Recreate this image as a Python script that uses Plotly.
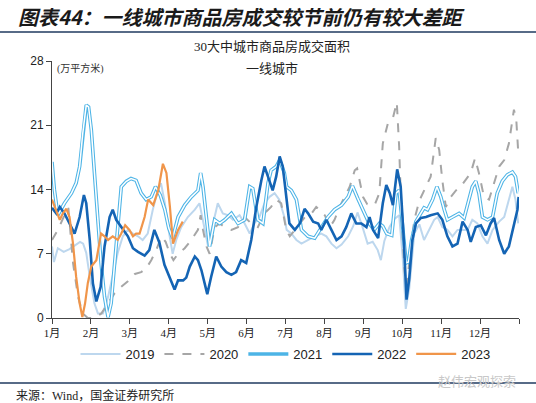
import plotly.graph_objects as go

# ---------------- data (x = months elapsed since Jan 1, y = 万平方米) ----------------
month_labels = ["1月", "2月", "3月", "4月", "5月", "6月", "7月", "8月", "9月", "10月", "11月", "12月"]
y_ticks = [0, 7, 14, 21, 28]

x2019 = [0.00,0.05,0.15,0.30,0.45,0.60,0.72,0.80,0.88,0.97,1.09,1.18,1.31,1.44,1.56,1.69,1.82,1.95,2.08,2.21,2.33,2.46,2.59,2.72,2.80,2.90,3.00,3.10,3.20,3.32,3.49,3.58,3.67,3.79,3.88,4.01,4.14,4.26,4.39,4.52,4.65,4.82,4.95,5.08,5.20,5.33,5.46,5.59,5.72,5.84,5.97,6.03,6.15,6.28,6.41,6.58,6.75,6.92,7.05,7.18,7.31,7.44,7.61,7.74,7.85,7.98,8.11,8.24,8.37,8.45,8.54,8.67,8.80,8.92,9.01,9.09,9.18,9.31,9.44,9.56,9.69,9.82,9.91,10.03,10.16,10.29,10.42,10.55,10.68,10.80,10.93,11.06,11.19,11.32,11.49,11.62,11.74,11.83,11.91,11.98]
y2019 = [7.8,6.1,7.6,7.2,7.5,8.0,8.3,8.1,7.1,4.5,1.6,0.5,0.5,2.3,4.5,7.1,8.9,9.6,9.2,8.9,8.5,9.2,11.8,13.9,14.7,12.5,9.5,7.0,8.6,9.9,11.0,11.4,11.8,12.5,10.7,7.8,10.3,12.5,11.4,11.2,10.7,11.2,10.3,9.2,10.3,11.0,12.5,13.2,13.6,12.9,11.0,9.6,9.2,8.5,8.1,8.5,8.9,9.2,8.9,8.1,7.6,8.0,8.9,10.0,11.5,9.9,8.1,8.3,7.4,6.3,8.4,9.9,10.8,11.2,6.7,1.0,3.2,9.2,10.2,8.5,9.6,10.7,11.0,9.9,9.6,8.9,9.6,9.6,9.6,10.7,10.3,8.9,8.1,9.6,10.5,11.0,12.9,14.3,12.9,10.3]

x2020 = [0.00,0.15,0.30,0.42,0.54,0.67,0.79,0.92,1.09,1.27,1.44,1.61,1.78,1.95,2.13,2.29,2.42,2.55,2.68,2.81,2.92,3.03,3.12,3.24,3.41,3.58,3.75,3.82,3.88,3.97,4.05,4.18,4.31,4.44,4.61,4.78,4.95,5.12,5.29,5.46,5.63,5.76,5.89,6.02,6.11,6.24,6.37,6.50,6.67,6.79,6.88,7.01,7.14,7.26,7.39,7.52,7.65,7.78,7.84,7.99,8.10,8.29,8.41,8.50,8.63,8.76,8.86,8.92,8.98,9.06,9.12,9.20,9.31,9.44,9.58,9.73,9.86,9.95,10.03,10.12,10.25,10.38,10.50,10.63,10.76,10.87,10.97,11.10,11.23,11.36,11.49,11.62,11.74,11.87,11.93,11.98]
y2020 = [8.5,9.6,11.0,12.0,6.0,2.3,0.5,0.0,0.0,0.5,1.6,2.7,3.4,4.0,4.8,5.0,5.4,6.3,7.4,8.9,8.3,7.0,6.3,7.0,7.6,8.5,9.6,11.2,9.6,7.8,7.0,9.9,10.3,9.9,9.6,9.9,11.0,10.3,9.9,11.4,12.1,12.9,12.5,9.6,8.9,9.6,10.3,11.0,11.4,12.1,11.8,11.2,9.9,10.7,12.1,13.2,14.3,16.1,16.3,13.2,12.4,12.3,13.6,19.0,21.2,21.8,23.5,18.7,11.0,5.0,3.5,7.0,10.7,12.8,14.0,15.4,19.6,18.3,15.0,12.1,13.2,13.9,14.3,15.0,15.8,17.4,15.8,13.2,12.9,14.7,16.5,17.2,19.0,22.7,21.6,18.1]

x2021 = [0.00,0.06,0.15,0.32,0.50,0.62,0.71,0.79,0.88,0.94,1.01,1.09,1.18,1.26,1.35,1.44,1.52,1.61,1.69,1.78,1.91,2.03,2.16,2.29,2.42,2.55,2.66,2.78,2.90,3.00,3.10,3.24,3.41,3.58,3.75,3.82,3.88,3.97,4.05,4.18,4.31,4.44,4.61,4.78,4.95,5.08,5.16,5.29,5.42,5.55,5.63,5.76,5.85,5.97,6.03,6.15,6.28,6.41,6.58,6.75,6.92,7.09,7.26,7.44,7.61,7.72,7.86,8.03,8.15,8.28,8.41,8.50,8.60,8.73,8.84,8.92,9.01,9.10,9.16,9.24,9.35,9.48,9.56,9.65,9.78,9.89,9.99,10.08,10.16,10.29,10.46,10.59,10.68,10.80,10.89,10.97,11.06,11.19,11.32,11.44,11.57,11.70,11.83,11.91,11.98]
y2021 = [17.0,14.0,11.2,12.5,13.6,14.7,16.5,20.1,23.2,23.0,20.5,15.8,10.3,6.0,2.3,0.1,1.6,6.0,10.3,14.3,14.9,15.2,15.0,13.6,12.9,13.2,14.3,13.4,11.8,9.8,8.7,11.0,12.3,13.2,13.9,15.8,14.3,11.0,7.8,10.7,10.3,10.7,11.4,10.3,10.7,14.3,14.1,10.7,10.3,14.7,16.1,16.5,17.2,15.8,14.3,13.9,12.9,9.6,8.9,8.7,9.9,11.0,11.8,12.3,13.2,14.4,13.0,11.5,10.3,9.6,10.3,10.0,9.2,9.0,13.6,13.9,9.6,6.0,6.1,8.5,10.5,11.4,12.0,11.8,12.9,14.3,13.2,11.8,10.7,11.0,11.4,10.9,12.5,14.3,14.9,13.6,11.0,10.7,11.0,13.6,14.9,15.6,15.9,15.4,13.6]

x2022 = [0.00,0.11,0.20,0.32,0.45,0.58,0.71,0.82,0.88,0.97,1.05,1.14,1.25,1.35,1.48,1.56,1.65,1.78,1.95,2.08,2.21,2.38,2.50,2.63,2.76,2.89,3.03,3.15,3.24,3.37,3.45,3.54,3.67,3.75,3.84,3.92,3.99,4.09,4.22,4.35,4.48,4.61,4.73,4.86,4.99,5.12,5.25,5.38,5.46,5.55,5.67,5.76,5.85,5.93,6.02,6.10,6.24,6.37,6.49,6.58,6.71,6.84,6.92,7.05,7.18,7.31,7.44,7.56,7.69,7.82,7.95,8.08,8.16,8.25,8.38,8.50,8.59,8.68,8.76,8.87,8.96,9.04,9.11,9.18,9.26,9.35,9.48,9.61,9.73,9.91,10.03,10.16,10.29,10.42,10.55,10.68,10.76,10.89,11.02,11.15,11.27,11.36,11.49,11.62,11.74,11.87,11.96,11.99]
y2022 = [12.0,11.4,12.1,11.4,10.3,9.2,11.0,13.4,12.5,8.5,3.8,1.8,3.4,7.8,11.0,11.8,10.7,9.9,8.9,7.6,7.2,6.8,7.4,9.6,8.2,5.8,4.3,3.1,4.1,4.1,4.4,5.6,6.7,6.3,5.2,3.8,2.6,4.5,6.7,5.6,5.0,4.7,5.0,6.3,6.0,8.5,12.1,15.0,16.5,15.4,13.9,15.4,17.6,16.5,13.0,10.3,9.6,10.3,11.9,11.4,10.5,10.3,9.6,10.7,9.6,8.5,8.9,9.9,11.4,10.3,10.3,9.9,11.0,9.6,8.7,12.5,14.5,13.6,12.3,16.2,14.3,8.5,2.0,4.3,8.5,10.3,10.9,11.0,11.2,11.4,10.7,8.9,7.8,8.1,10.5,9.6,8.3,9.9,10.1,9.0,10.3,10.9,8.5,7.0,7.8,10.3,11.8,13.2]

x2023 = [0.00,0.11,0.20,0.28,0.37,0.45,0.54,0.62,0.71,0.78,0.85,0.92,1.01,1.14,1.26,1.35,1.44,1.56,1.69,1.78,1.88,1.99,2.08,2.16,2.25,2.38,2.47,2.60,2.73,2.85,2.94,3.03,3.11,3.24,3.36]
y2023 = [12.9,11.8,10.7,11.4,11.9,11.0,8.1,4.5,1.6,0.1,1.6,3.8,5.6,6.3,9.2,8.9,8.5,8.9,8.5,9.2,10.1,9.6,8.9,9.2,9.2,11.0,12.9,12.3,13.9,16.8,15.8,12.1,8.1,9.6,10.5]

series_names = ["2019", "2020", "2021", "2022", "2023"]
series_colors = ["#BDD7EE", "#A6A6A6", "#4DB4E6", "#1464B4", "#F0954A"]

# ---------------- layout helpers ----------------
W, H = 536, 403
L, R, T, B = 52, 17, 61, 85
PW, PH = W - L - R, H - T - B


def px(x):
    return (x - L) / PW


def py(y):
    return (H - B - y) / PH


fig = go.Figure()

fig.add_trace(go.Scatter(x=x2019, y=y2019, mode="lines", name=series_names[0],
                         line=dict(color=series_colors[0], width=2)))
fig.add_trace(go.Scatter(x=x2020, y=y2020, mode="lines", name=series_names[1],
                         line=dict(color=series_colors[1], width=2, dash="dash")))
fig.add_trace(go.Scatter(x=x2021, y=y2021, mode="lines", name=series_names[2],
                         line=dict(color=series_colors[2], width=3.6)))
fig.add_trace(go.Scatter(x=x2021, y=y2021, mode="lines", showlegend=False, hoverinfo="skip",
                         line=dict(color="white", width=1.5)))
fig.add_trace(go.Scatter(x=x2022, y=y2022, mode="lines", name=series_names[3],
                         line=dict(color=series_colors[3], width=2.6)))
fig.add_trace(go.Scatter(x=x2023, y=y2023, mode="lines", name=series_names[4],
                         line=dict(color=series_colors[4], width=2.2)))

cjk = "Noto Sans CJK SC"
serif_cjk = "Liberation Serif, Noto Sans CJK SC"

annotations = [
    dict(text="<b><i>图表44：一线城市商品房成交较节前仍有较大差距</i></b>", x=px(16), y=py(17),
         xanchor="left", yanchor="middle", font=dict(family=cjk, size=20, color="#1a1a1a")),
    dict(text="30大中城市商品房成交面积", x=px(272), y=py(46), xanchor="center", yanchor="middle",
         font=dict(family=serif_cjk, size=13, color="#222")),
    dict(text="一线城市", x=px(272), y=py(68), xanchor="center", yanchor="middle",
         font=dict(family=serif_cjk, size=13, color="#222")),
    dict(text="(万平方米)", x=px(55), y=py(68), xanchor="left", yanchor="middle",
         font=dict(family=serif_cjk, size=10, color="#333")),
    dict(text="来源：Wind，国金证券研究所", x=px(14), y=py(395), xanchor="left", yanchor="middle",
         font=dict(family=serif_cjk, size=12, color="#222")),
    dict(text="赵伟宏观探索", x=px(518), y=py(380), xanchor="right", yanchor="middle",
         font=dict(family=cjk, size=13, color="#C8C8C8")),
]
for a in annotations:
    a.update(xref="paper", yref="paper", showarrow=False)

shapes = [
    dict(type="line", xref="paper", yref="paper", x0=px(0), x1=px(536), y0=py(32), y1=py(32),
         line=dict(color="#1F3A5F", width=1.5)),
    dict(type="line", xref="paper", yref="paper", x0=px(0), x1=px(536), y0=py(383), y1=py(383),
         line=dict(color="#1F3A5F", width=1.5)),
]

fig.update_layout(
    width=W, height=H,
    margin=dict(l=L, r=R, t=T, b=B, autoexpand=False),
    paper_bgcolor="white", plot_bgcolor="white",
    annotations=annotations, shapes=shapes,
    showlegend=True,
    legend=dict(orientation="h", x=0.5, xanchor="center", y=py(354), yanchor="middle",
                font=dict(family="Liberation Sans, Arial", size=13, color="#222"),
                itemwidth=40, bgcolor="rgba(0,0,0,0)"),
    xaxis=dict(range=[0, 12], tickvals=list(range(13)), ticktext=month_labels + [""],
               ticks="outside", ticklen=5, tickcolor="#444", showline=True, linecolor="#444",
               linewidth=1, showgrid=False, zeroline=False,
               tickfont=dict(family=serif_cjk, size=11, color="#222")),
    yaxis=dict(range=[0, 28], tickvals=y_ticks, ticks="outside", ticklen=5, tickcolor="#444",
               showline=True, linecolor="#444", linewidth=1, showgrid=False, zeroline=False,
               tickfont=dict(family="Liberation Sans, Arial", size=12, color="#222")),
)

fig.write_html("out.html", config={"displayModeBar": False},
               post_script="document.body.style.margin='0';")
